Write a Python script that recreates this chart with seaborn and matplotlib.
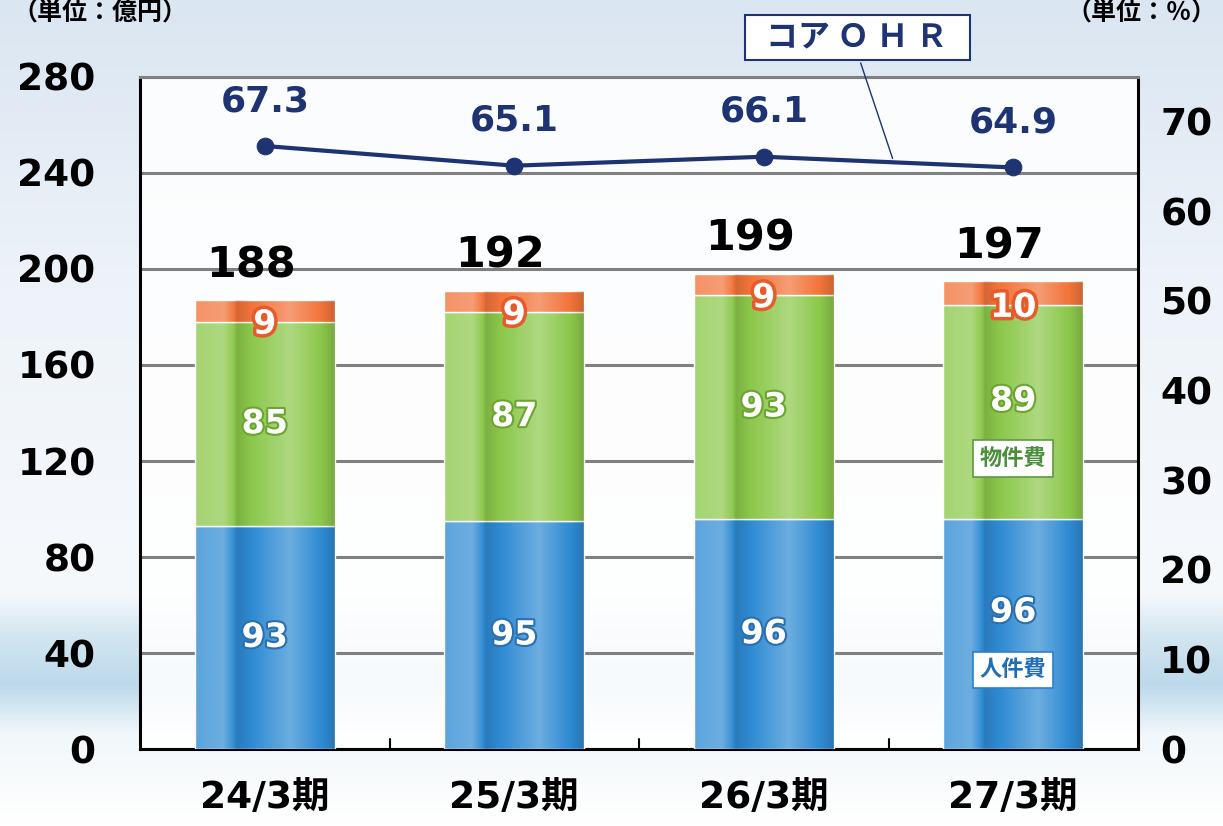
import numpy as np
import pandas as pd
import matplotlib.pyplot as plt
import matplotlib.patheffects as pe
from matplotlib.colors import LinearSegmentedColormap
from matplotlib.patches import Rectangle
import seaborn as sns

# データ
periods = ['24/3期', '25/3期', '26/3期', '27/3期']
jinkenhi = [93, 95, 96, 96]      # 人件費
bukkenhi = [85, 87, 93, 89]      # 物件費
zeikin = [9, 9, 9, 10]           # 税金
totals = [188, 192, 199, 197]
core_ohr = [67.3, 65.1, 66.1, 64.9]

BLUE = '#2f8bd3'
GREEN = '#8cc84b'
ORANGE = '#f2743a'
NAVY = '#1d3372'

sns.set_style('white')
plt.rcParams['font.family'] = ['DejaVu Sans', 'Noto Sans CJK JP']
plt.rcParams['font.weight'] = 'bold'
plt.rcParams['text.color'] = 'black'
plt.rcParams['ytick.color'] = 'black'
plt.rcParams['xtick.color'] = 'black'

fig = plt.figure(figsize=(12.23, 8.26), dpi=100)

# 背景（空と海）
bg = fig.add_axes([0, 0, 1, 1], zorder=-10)
bg_cmap = LinearSegmentedColormap.from_list('sky', [
    (0.0, '#dae6f2'), (0.35, '#eef3f9'), (0.72, '#f6f9fc'),
    (0.77, '#d3e6f1'), (0.83, '#bcd9eb'), (0.89, '#f2f7fa'), (1.0, '#ffffff')])
bg.imshow(np.linspace(0, 1, 256).reshape(-1, 1), aspect='auto', cmap=bg_cmap,
          extent=[0, 1, 0, 1])
bg.axis('off')

ax = fig.add_axes([0.1145, 0.0932, 0.816, 0.8136])
ax.set_facecolor((1, 1, 1, 0.88))

df = pd.DataFrame({'period': periods, 'jin': jinkenhi, 'buk': bukkenhi, 'zei': zeikin})
df['b2'] = df['jin']
df['b3'] = df['jin'] + df['buk']

sns.barplot(data=df, x='period', y='jin', color=BLUE, saturation=1, width=0.56, ax=ax, zorder=3)
sns.barplot(data=df, x='period', y='buk', bottom=df['b2'], color=GREEN, saturation=1,
            width=0.56, ax=ax, zorder=3)
sns.barplot(data=df, x='period', y='zei', bottom=df['b3'], color=ORANGE, saturation=1,
            width=0.56, ax=ax, zorder=3)

# 円柱風の陰影
t = np.linspace(0, 1, 200)
shade = np.interp(t, [0, 0.2, 0.27, 0.3, 0.45, 0.68, 0.9, 1.0],
                  [0.22, 0.3, 0.05, -0.12, 0.05, 0.3, 0.0, -0.15])
rgba = np.zeros((1, len(t), 4))
rgba[0, :, :3] = np.where(shade[:, None] > 0, 1.0, 0.0)
rgba[0, :, 3] = np.abs(shade)
for p in list(ax.patches):
    x0, y0 = p.get_x(), p.get_y()
    w, h = p.get_width(), p.get_height()
    im = ax.imshow(rgba, extent=[x0, x0 + w, y0, y0 + h], aspect='auto', zorder=3.5,
                   interpolation='bilinear')
    im.set_clip_path(p)

ax.set_ylim(0, 280)
ax.set_xlim(-0.5, 3.5)
ax.set_yticks(range(0, 281, 40))
ax.yaxis.grid(True, color='#808080', lw=2.2, zorder=0)
ax.set_xlabel('')
ax.set_ylabel('')
ax.tick_params(axis='y', length=0, labelsize=27, pad=32)
ax.tick_params(axis='x', length=0, labelsize=27, pad=22)
for side in ['left', 'bottom', 'right']:
    ax.spines[side].set_color('black')
    ax.spines[side].set_linewidth(2.2)
ax.spines['top'].set_color('#808080')
ax.spines['top'].set_linewidth(2.2)
# 区切りの目盛り
for xb in [0.5, 1.5, 2.5]:
    ax.plot([xb, xb], [0, 4], color='black', lw=1.5, zorder=4)

white_lbl = dict(color='white', fontsize=24, fontweight='bold', ha='center', va='center', zorder=6)
for i in range(len(periods)):
    ax.text(i, 57 if i == 3 else jinkenhi[i] / 2, str(jinkenhi[i]),
            path_effects=[pe.withStroke(linewidth=3, foreground='#2a6fb0')], **white_lbl)
    ax.text(i, 145 if i == 3 else jinkenhi[i] + bukkenhi[i] / 2, str(bukkenhi[i]),
            path_effects=[pe.withStroke(linewidth=3, foreground='#6aa52e')], **white_lbl)
    ax.text(i, jinkenhi[i] + bukkenhi[i] - 1, str(zeikin[i]),
            path_effects=[pe.withStroke(linewidth=5, foreground='#e85a2a')], **white_lbl)
    top = jinkenhi[i] + bukkenhi[i] + zeikin[i]
    ax.annotate(str(totals[i]), (i, top), xytext=(-10, 10), textcoords='offset points',
                ha='center', va='bottom', fontsize=31, fontweight='bold', color='black', zorder=6)

# 凡例ボックス
ax.text(3, 121, '物件費', family=['Noto Sans CJK JP'], fontsize=16, fontweight='bold',
        color='#4a8f3a', ha='center', va='center', zorder=7,
        bbox=dict(boxstyle='square,pad=0.3', fc='white', ec='#5c9c3c', lw=1.2))
ax.text(3, 33, '人件費', family=['Noto Sans CJK JP'], fontsize=16, fontweight='bold',
        color='#1f6fb8', ha='center', va='center', zorder=7,
        bbox=dict(boxstyle='square,pad=0.3', fc='white', ec='#2f7fc8', lw=1.2))

# コアOHR（右軸）
ax2 = ax.twinx()
ohr_df = pd.DataFrame({'x': np.arange(len(periods)), 'ohr': core_ohr})
sns.lineplot(data=ohr_df, x='x', y='ohr', color=NAVY, lw=3, marker='o', markersize=12,
             markeredgecolor=NAVY, ax=ax2, zorder=5)
ax2.set_ylim(0, 75)
ax2.set_yticks(range(0, 71, 10))
ax2.set_ylabel('')
ax2.tick_params(axis='y', length=0, labelsize=27, pad=16)
for s in ax2.spines.values():
    s.set_visible(False)
for i, v in enumerate(core_ohr):
    ax2.annotate(f'{v:.1f}', (i, v), xytext=(0, 20), textcoords='offset points',
                 ha='center', va='bottom', fontsize=26, fontweight='bold', color=NAVY)

# コアOHR 吹き出し
fig.patches.append(Rectangle((0.609, 0.927), 0.184, 0.055, transform=fig.transFigure,
                             fc='white', ec=NAVY, lw=1.5, zorder=5))
fig.text(0.701, 0.955, 'コア Ｏ Ｈ Ｒ', family=['Noto Sans CJK JP'], fontsize=23,
         fontweight='bold', color=NAVY, ha='center', va='center', zorder=6)
ax2.annotate('', xy=(2.52, 65.6), xycoords='data', xytext=(0.703, 0.927),
             textcoords='figure fraction',
             arrowprops=dict(arrowstyle='-', color=NAVY, lw=1))

# 単位
fig.text(0.01, 0.998, '（単位：億円）', family=['Noto Sans CJK JP'], fontsize=18,
         fontweight='bold', ha='left', va='top')
fig.text(0.995, 0.998, '（単位：％）', family=['Noto Sans CJK JP'], fontsize=18,
         fontweight='bold', ha='right', va='top')

fig.savefig('out.png', dpi=100)
